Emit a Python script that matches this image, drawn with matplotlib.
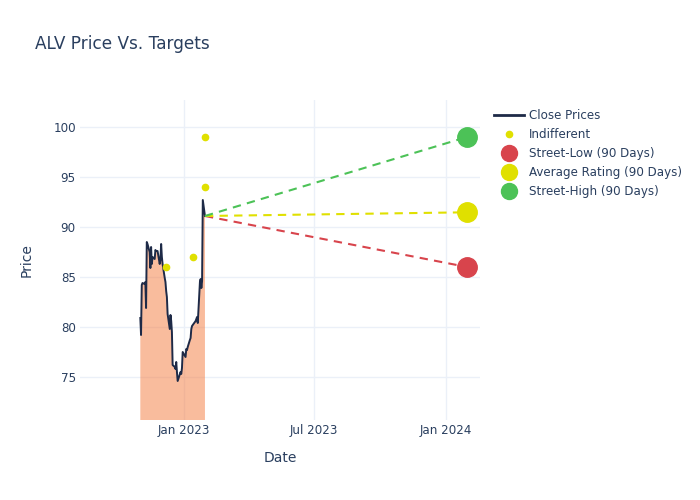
import numpy as np
import pandas as pd
import matplotlib
matplotlib.use("Agg")
import matplotlib.pyplot as plt
import matplotlib.dates as mdates
from matplotlib.lines import Line2D

# close prices
close_dates = pd.to_datetime([
    '2022-11-01', '2022-11-02', '2022-11-03', '2022-11-04', '2022-11-07', '2022-11-08',
    '2022-11-09', '2022-11-10', '2022-11-11', '2022-11-14', '2022-11-15', '2022-11-16',
    '2022-11-17', '2022-11-18', '2022-11-21', '2022-11-22', '2022-11-23', '2022-11-25',
    '2022-11-28', '2022-11-29', '2022-11-30', '2022-12-01', '2022-12-02', '2022-12-05',
    '2022-12-06', '2022-12-07', '2022-12-08', '2022-12-09', '2022-12-12', '2022-12-13',
    '2022-12-14', '2022-12-15', '2022-12-16', '2022-12-19', '2022-12-20', '2022-12-21',
    '2022-12-22', '2022-12-23', '2022-12-27', '2022-12-28', '2022-12-29', '2022-12-30',
    '2023-01-03', '2023-01-04', '2023-01-05', '2023-01-06', '2023-01-09', '2023-01-10',
    '2023-01-11', '2023-01-12', '2023-01-13', '2023-01-17', '2023-01-18', '2023-01-19',
    '2023-01-20', '2023-01-23', '2023-01-24', '2023-01-25', '2023-01-26', '2023-01-27',
    '2023-01-30'])
close_prices = [
    80.9, 79.2, 84.2, 84.4, 84.3, 84.5,
    81.9, 88.5, 88.3, 87.5, 85.9, 88.0,
    86.3, 87.0, 86.8, 87.7, 87.6, 87.6,
    86.3, 86.8, 88.3, 87.0, 86.3, 84.9,
    84.5, 83.6, 83.0, 81.3, 79.8, 81.2,
    80.6, 79.5, 76.2, 76.0, 75.8, 76.5,
    75.5, 74.6, 75.5, 75.3, 75.9, 77.5,
    77.0, 77.8, 77.7, 78.0, 78.7, 78.9,
    79.8, 80.1, 80.2, 80.6, 80.8, 81.0,
    80.4, 84.5, 84.8, 83.9, 84.6, 92.7,
    91.1]

# analyst ratings (Indifferent)
rating_dates = pd.to_datetime(['2022-12-07', '2023-01-13', '2023-01-30', '2023-01-30'])
rating_prices = [86.0, 87.0, 94.0, 99.0]

# 90 day targets
target_start = pd.Timestamp('2023-01-30')
target_end = pd.Timestamp('2024-01-30')
target_names = ['Street-Low (90 Days)', 'Average Rating (90 Days)', 'Street-High (90 Days)']
target_values = [86.0, 91.47, 99.0]
target_colors = ['#D8444C', '#E0E000', '#4CC257']

text_col = '#2a3f5f'
grid_col = '#EBF0F8'

fig = plt.figure(figsize=(7, 5), dpi=100)
ax = fig.add_axes([80/700, 80/500, 400/700, 320/500])

ax.fill_between(close_dates, close_prices, 0, color='#F57A3C', alpha=0.5, linewidth=0, zorder=2)
ax.plot(close_dates, close_prices, color='#1e2a47', linewidth=1.4, zorder=3)
ax.plot(rating_dates, rating_prices, 'o', color='#E0E000', markersize=4.5, zorder=4)

last_price = close_prices[-1]
for val, col in zip(target_values, target_colors):
    ax.plot([target_start, target_end], [last_price, val], color=col, linestyle=(0, (4, 3)),
            linewidth=1.5, zorder=3)
    ax.plot([target_end], [val], 'o', color=col, markersize=14, zorder=5)

ax.set_xlim(pd.Timestamp('2022-08-09'), pd.Timestamp('2024-02-17'))
ax.set_ylim(70.7, 102.7)
ax.set_yticks([75, 80, 85, 90, 95, 100])
ax.set_xticks(pd.to_datetime(['2023-01-01', '2023-07-01', '2024-01-01']))
ax.xaxis.set_major_formatter(mdates.DateFormatter('%b %Y'))

ax.grid(True, color=grid_col, linewidth=1, zorder=0)
ax.set_axisbelow(True)
for s in ax.spines.values():
    s.set_visible(False)
ax.tick_params(length=0, labelsize=8.6, labelcolor=text_col, pad=3)
ax.set_xlabel('Date', fontsize=10, color=text_col, labelpad=10)
ax.set_ylabel('Price', fontsize=10, color=text_col, labelpad=14)

fig.text(35/700, 1 - 44/500, 'ALV Price Vs. Targets', fontsize=12.2, color=text_col, va='center', ha='left')

handles = [Line2D([], [], color='#1e2a47', linewidth=2),
           Line2D([], [], marker='o', linestyle='', color='#E0E000', markersize=4.5)]
for col in target_colors:
    handles.append(Line2D([], [], marker='o', linestyle='', color=col, markersize=11.5))
labels = ['Close Prices', 'Indifferent'] + target_names
leg = fig.legend(handles, labels, loc='upper left', bbox_to_anchor=(494/700, 1 - 109/500),
                 frameon=False, fontsize=8.6, labelspacing=0.5, handlelength=2.5,
                 handletextpad=0.42, borderpad=0, borderaxespad=0)
for t in leg.get_texts():
    t.set_color(text_col)

fig.savefig('out.png', dpi=100)
